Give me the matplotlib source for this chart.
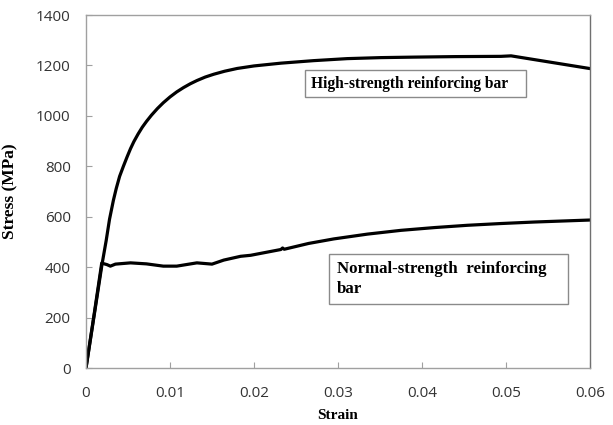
import matplotlib
matplotlib.use('Agg')
import matplotlib.pyplot as plt
from matplotlib.patches import Rectangle

# stress-strain data
high_strain = [0.0, 0.0010, 0.0019, 0.0024, 0.0028, 0.00326, 0.0036, 0.0040, 0.00445,
               0.0049, 0.0053, 0.0057, 0.0062, 0.0067, 0.0072, 0.0078, 0.0085,
               0.0092, 0.0100, 0.0108, 0.0116, 0.0124, 0.0132, 0.0142, 0.0152,
               0.0165, 0.0180, 0.0200, 0.0232, 0.0271, 0.0311, 0.0351, 0.0391,
               0.0440, 0.0494, 0.0506, 0.0601]
high_stress = [0, 215, 410, 505, 590, 665, 712, 760, 800, 838, 870, 898, 928, 955, 978,
               1003, 1029, 1052, 1075, 1095, 1112, 1127, 1140, 1154, 1165,
               1177, 1188, 1198, 1209, 1219, 1227, 1231, 1233, 1235, 1236,
               1238, 1187]

normal_strain = [0.0, 0.0010, 0.00187, 0.0025, 0.0029, 0.0035, 0.0053, 0.0072, 0.0092,
                 0.0108, 0.0132, 0.0150, 0.0164, 0.0184, 0.0196, 0.0232, 0.0234,
                 0.0236, 0.0265, 0.0295, 0.0335, 0.0375, 0.0415, 0.0454, 0.0494,
                 0.0534, 0.0601]
normal_stress = [0, 220, 416, 410, 404, 412, 417, 413, 404, 404, 417, 412, 428, 443, 447,
                 470, 476, 471, 494, 512, 531, 546, 557, 566, 573, 579, 587]

x_ticks = [0, 0.01, 0.02, 0.03, 0.04, 0.05, 0.06]
x_labels = ['0', '0.01', '0.02', '0.03', '0.04', '0.05', '0.06']
y_ticks = [0, 200, 400, 600, 800, 1000, 1200, 1400]

fig = plt.figure(figsize=(6.13, 4.25), dpi=100)
ax = fig.add_axes([0.1403, 0.1341, 0.8222, 0.8306])

ax.plot(high_strain, high_stress, color='black', lw=2.3, solid_joinstyle='round')
ax.plot(normal_strain, normal_stress, color='black', lw=2.3, solid_joinstyle='round')

ax.set_xlim(0, 0.06)
ax.set_ylim(0, 1400)
ax.set_xticks(x_ticks)
ax.set_xticklabels(x_labels)
ax.set_yticks(y_ticks)
ax.tick_params(direction='in', length=4, width=0.8, color='#a0a0a0',
               labelsize=11, labelcolor='#333333', pad=11)
ax.tick_params(axis='x', pad=13)
for lab in ax.get_xticklabels() + ax.get_yticklabels():
    lab.set_family('Open Sans')

for side in ['left', 'bottom', 'top']:
    ax.spines[side].set_color('#a0a0a0')
    ax.spines[side].set_linewidth(1.0)
ax.spines['right'].set_color('#707070')
ax.spines['right'].set_linewidth(1.0)

serif = dict(family='Liberation Serif', weight='bold')
ax.set_xlabel('Strain', fontsize=11, labelpad=6, **serif)
ax.set_ylabel('Stress (MPa)', fontsize=12.5, labelpad=13, **serif)

# annotation boxes
ax.add_patch(Rectangle((0.02613, 1074), 0.02626, 106, fill=False, ec='#8a8a8a', lw=1.0))
ax.text(0.0268, 1128, 'High-strength reinforcing bar', fontsize=11.2,
        ha='left', va='center', **serif)
ax.add_patch(Rectangle((0.02891, 253), 0.02845, 201, fill=False, ec='#8a8a8a', lw=1.0))
ax.text(0.02983, 354, 'Normal-strength  reinforcing\nbar', fontsize=12.2,
        ha='left', va='center', linespacing=1.3, **serif)

fig.savefig('out.png', dpi=100)
